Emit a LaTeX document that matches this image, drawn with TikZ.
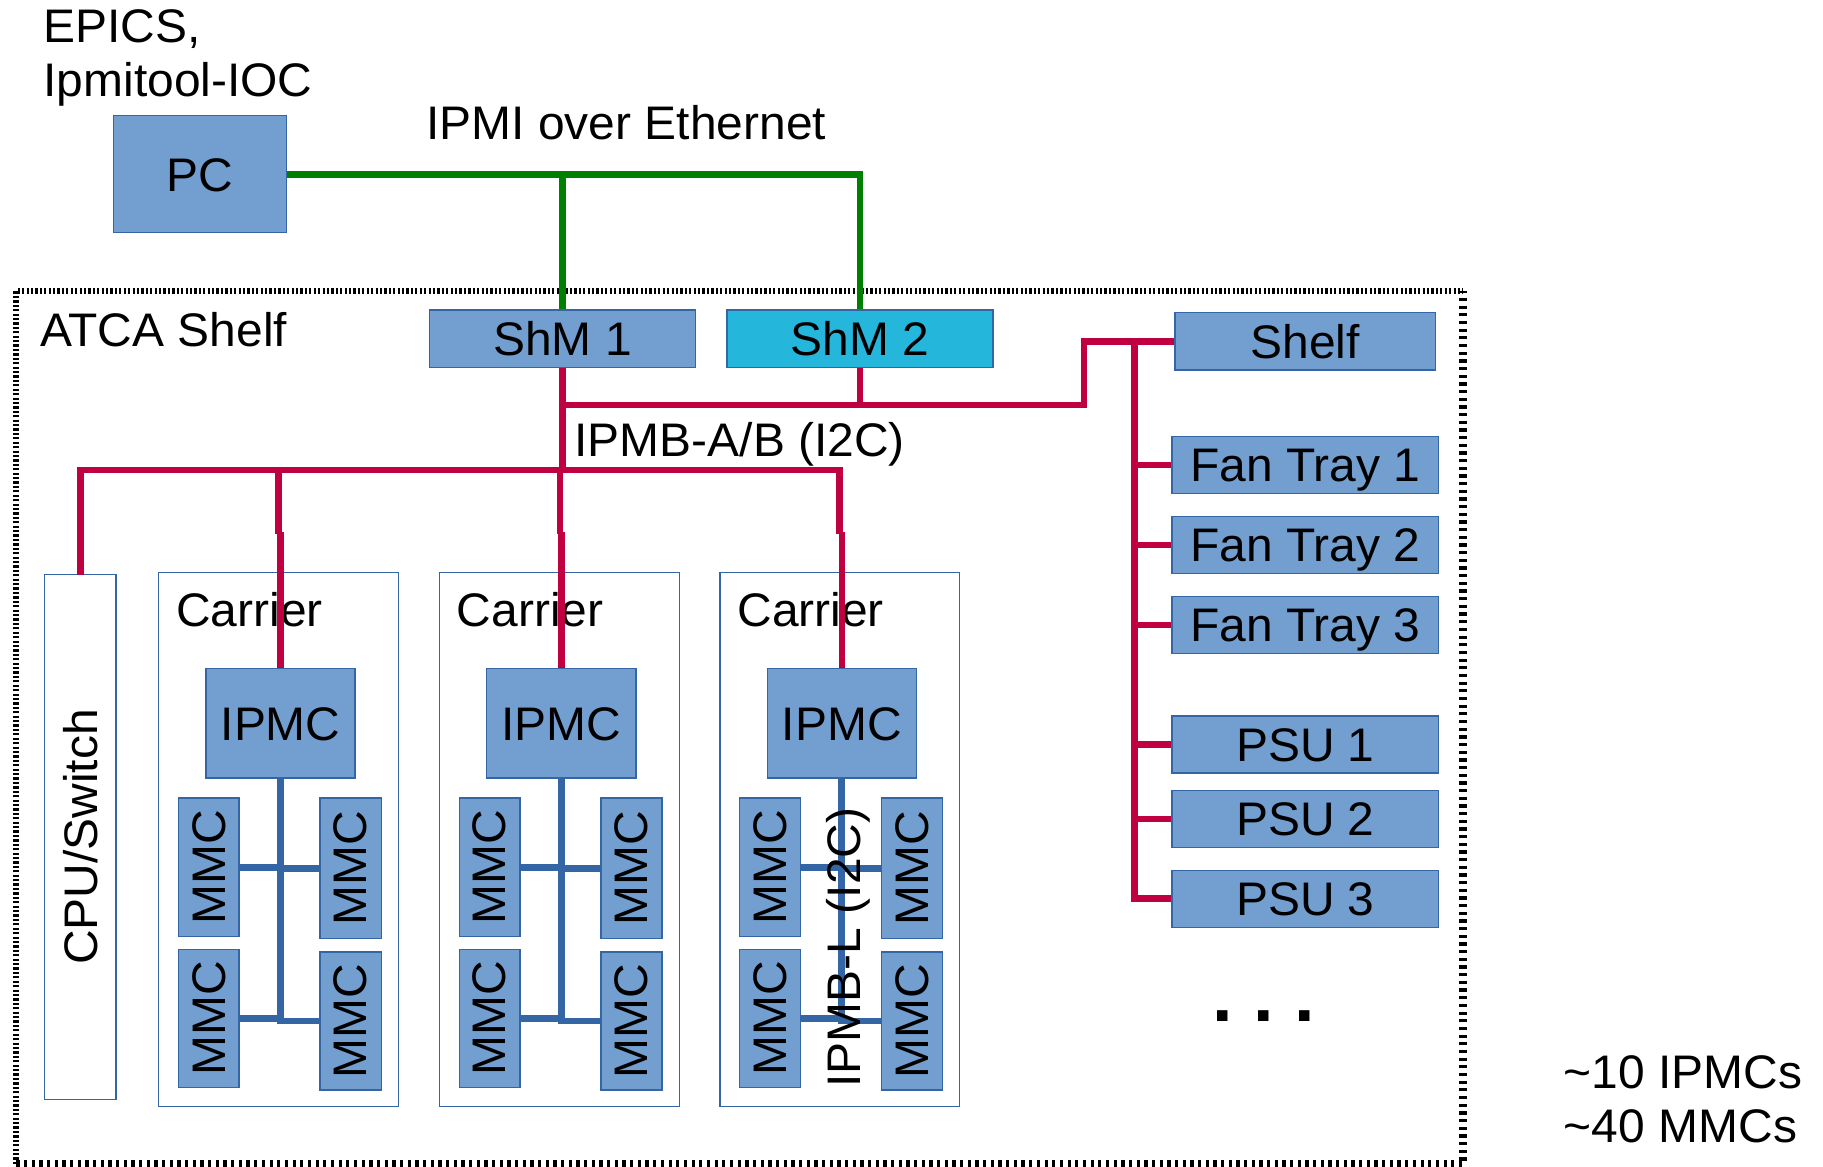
\documentclass[tikz,border=0pt]{standalone}
\usepackage{fontspec}
\usepackage{graphicx}
\setmainfont{Liberation Sans}[FakeStretch=1.018]
\pgfdeclarelayer{back}
\pgfdeclarelayer{wires}
\pgfsetlayers{back,wires,main}
\definecolor{boxfill}{HTML}{729FCF}
\definecolor{boxline}{HTML}{3465A4}
\definecolor{shmcyan}{RGB}{36,182,219}
\definecolor{ipmbred}{HTML}{BF0041}
\definecolor{ethgreen}{HTML}{008000}
\definecolor{lblue}{HTML}{3465A4}
\begin{document}
\begin{tikzpicture}[x=1pt,y=-1pt,
  txt/.style={font=\fontsize{40.5}{46.6}\selectfont, inner sep=0pt, outer sep=0pt, text=black},
  bbox/.style 2 args={txt, draw=boxline, fill=boxfill, line width=1.2pt, minimum width=#1, minimum height=#2},
  caps/.style={text height=29pt, text depth=0pt},
  wbox/.style 2 args={draw=boxline, fill=white, line width=1.1pt, inner sep=0pt, outer sep=0pt, minimum width=#1, minimum height=#2},
  eth/.style={draw=ethgreen, line width=5.8pt},
  ipmb/.style={draw=ipmbred, line width=5.6pt},
  ipmbl/.style={draw=lblue, line width=5.8pt},
  frameA/.style={line width=5pt, dash pattern=on 1.9pt off 1.9pt},
  frameB/.style={line width=6.3pt, dash pattern=on 2.8pt off 3.8pt},
]
\useasboundingbox (0,0) rectangle (1568,1003);

% ATCA shelf frame
\begin{pgfonlayer}{back}
  \draw[frameA] (14,1001.2) -- (14,250) -- (1258.4,250);
  \draw[frameB] (14,1001.2) -- (1258.4,1001.2) -- (1258.4,250);
  \node[wbox={61.4pt}{451.7pt}, txt] (cpu) at (69.1,720) {\rotatebox{90}{CPU/Switch}};
\end{pgfonlayer}

% top texts and boxes
\node[txt,anchor=north west,align=left] (epics) at (37.4,8.3) {EPICS,\\Ipmitool-IOC};
\node[txt,anchor=base west] (ipmieth) at (366.8,120.4) {IPMI over Ethernet};
\node[txt,anchor=base west] (atca) at (34.6,298.2) {ATCA Shelf};
\node[txt,anchor=base west] (ipmbab) at (494.2,392.4) {IPMB-A/B (I2C)};
\node[bbox={148.6pt}{100.6pt},caps] (pc) at (172.1,149.8) {PC};
\node[bbox={229.1pt}{49.4pt},caps] (shm1) at (483.85,291.3) {ShM 1};
\node[bbox={229.1pt}{49.4pt},caps,fill=shmcyan] (shm2) at (739.7,291.3) {ShM 2};

% right column
\node[bbox={224.4pt}{49.1pt},caps] (shelf) at (1122.7,293.55) {Shelf};
\node[bbox={229.2pt}{49pt},caps] (ft1) at (1122.8,399.95) {Fan Tray 1};
\node[bbox={229.2pt}{49pt},caps] (ft2) at (1122.8,468.75) {Fan Tray 2};
\node[bbox={229.2pt}{49pt},caps] (ft3) at (1122.8,537.5) {Fan Tray 3};
\node[bbox={229.2pt}{49pt},caps] (psu1) at (1122.8,640.5) {PSU 1};
\node[bbox={229.2pt}{49pt},caps] (psu2) at (1122.8,704.4) {PSU 2};
\node[bbox={229.2pt}{49pt},caps] (psu3) at (1122.8,773) {PSU 3};
\node[txt,font=\fontsize{62.5}{70}\selectfont\bfseries\frenchspacing,anchor=base] (dots) at (1087,878.4) {. . .};
\node[txt,anchor=north west,align=left] (count) at (1345.2,908.2) {\textasciitilde10 IPMCs\\\textasciitilde40 MMCs};

% carriers
\foreach \i/\L in {1/136.6,2/378,3/619.3}{
  \begin{pgfonlayer}{back}
    \node[wbox={206.2pt}{459.3pt}] (carrier\i) at (\L+103.1,722.05) {};
    \node[txt,anchor=base west] (carrierlbl\i) at (\L+15,538.6) {Carrier};
  \end{pgfonlayer}
  \node[bbox={128.3pt}{94.1pt},caps] (ipmc\i) at (\L+104.75,622.25) {IPMC};
  \node[bbox={52.1pt}{118.9pt}] (mmcLT\i) at (\L+43.05,745.95) {\rotatebox{90}{MMC}};
  \node[bbox={52.1pt}{118.4pt}] (mmcLB\i) at (\L+43.05,876) {\rotatebox{90}{MMC}};
  \node[bbox={52.6pt}{120.6pt}] (mmcRT\i) at (\L+165.1,746.8) {\rotatebox{90}{MMC}};
  \node[bbox={52.6pt}{118.5pt}] (mmcRB\i) at (\L+165.1,878.15) {\rotatebox{90}{MMC}};
  \begin{pgfonlayer}{wires}
    \draw[ipmbl, shorten >=-2.9pt] (ipmc\i.south) -- (ipmc\i.south |- mmcRB\i.west);
    \draw[ipmbl] (mmcLT\i.east) -- (mmcLT\i.east -| ipmc\i.south);
    \draw[ipmbl] (mmcRT\i.west) -- (mmcRT\i.west -| ipmc\i.south);
    \draw[ipmbl] (mmcLB\i.east) -- (mmcLB\i.east -| ipmc\i.south);
    \draw[ipmbl] (mmcRB\i.west) -- (mmcRB\i.west -| ipmc\i.south);
    \draw[ipmb] (ipmc\i.north) -- ++(0,-118);
  \end{pgfonlayer}
}
\node[txt,anchor=base,rotate=90] (ipmbl) at (739.7,815) {IPMB-L (I2C)};

% connectors
\begin{pgfonlayer}{wires}
  \draw[eth] (pc.east) -| (shm2.north);
  \draw[eth] (shm1.north) -- (shm1.north |- pc.east);
  \coordinate (tbR) at (722,404.2);
  \coordinate (mid) at (932.4,348.2);
  \coordinate (bus) at (975.7,293.55);
  \coordinate (u1) at (239.7,459);
  \coordinate (u2) at (481.6,459);
  \draw[ipmb] (cpu.north) |- (tbR) -- ++(0,55);
  \draw[ipmb] (u1) -- (u1 |- tbR);
  \draw[ipmb] (u2) -- (u2 |- tbR);
  \draw[ipmb] (shm1.south) -- (shm1.south |- tbR);
  \draw[ipmb] (shm1.south |- mid) -- (mid) |- (shelf.west);
  \draw[ipmb] (shm2.south) -- (shm2.south |- mid);
  \draw[ipmb] (bus) -- (bus |- psu3.west) -- (psu3.west);
  \foreach \n in {ft1,ft2,ft3,psu1,psu2} \draw[ipmb] (bus |- \n.west) -- (\n.west);
\end{pgfonlayer}
\end{tikzpicture}
\end{document}
